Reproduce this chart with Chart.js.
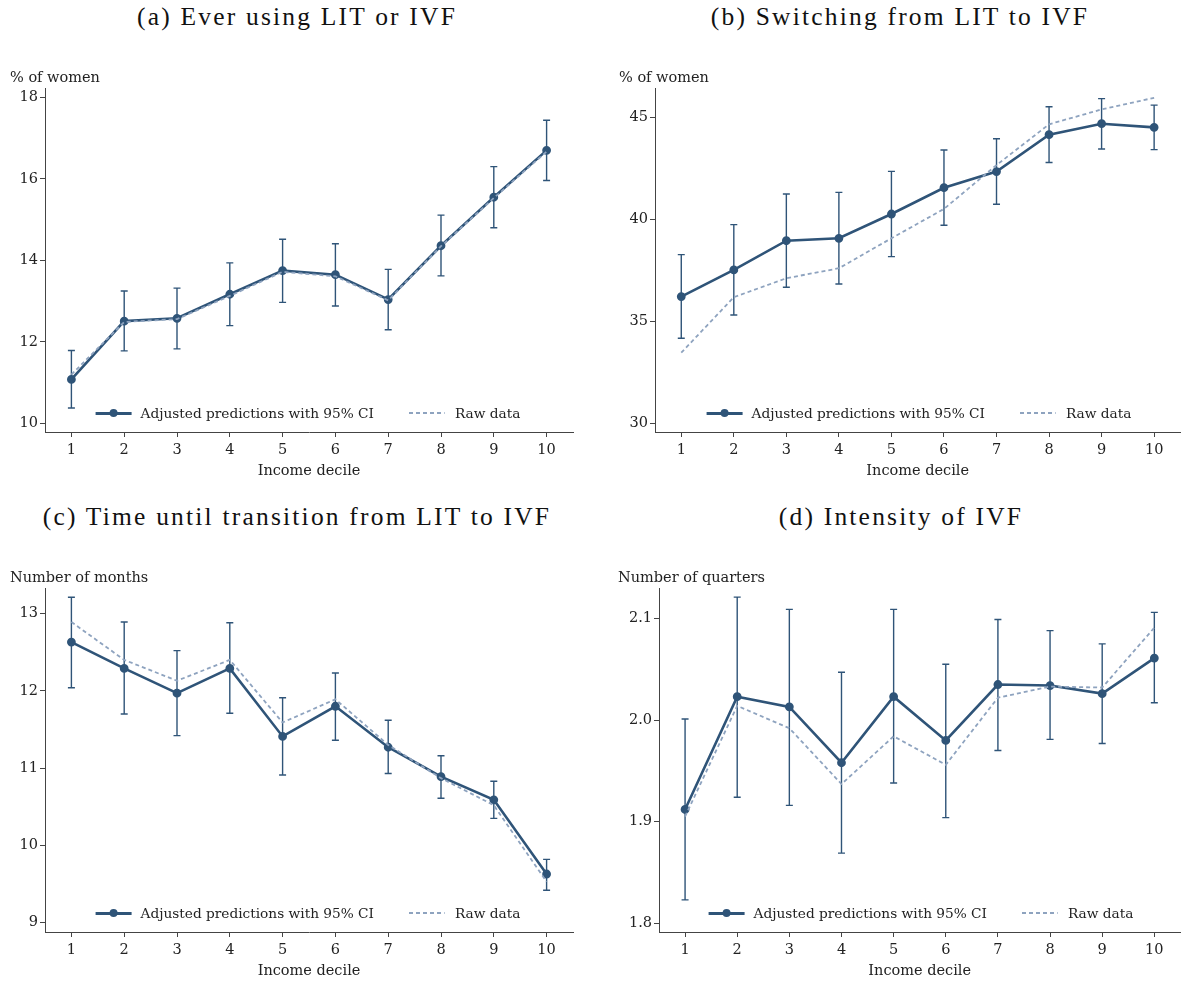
<!DOCTYPE html>
<html>
<head>
<meta charset="utf-8">
<title>Income decile panels</title>
<script src="https://cdn.jsdelivr.net/npm/chart.js@4.4.1/dist/chart.umd.min.js"></script>
<style>
html, body { margin: 0; padding: 0; background: #fff; overflow: hidden; width: 1182px; height: 983px; }
.panel-title { position: absolute; transform: translateX(-50%); font-family: 'Liberation Serif', serif; font-size: 25.5px; letter-spacing: 2.2px; color: #111; white-space: nowrap; }
.box { position: absolute; }
.legend { position: absolute; transform: translate(-50%, -50%); display: flex; align-items: center; font-family: 'DejaVu Serif', serif; font-size: 13.7px; color: #222; white-space: nowrap; }
.swatch { position: relative; width: 36px; height: 10px; margin-right: 9px; }
.swatch.solid::before { content: ''; position: absolute; left: 0; right: 0; top: 3.5px; height: 3px; background: #2f5478; }
.swatch.solid::after { content: ''; position: absolute; left: 14px; top: 1px; width: 8px; height: 8px; border-radius: 50%; background: #2f5478; }
.swatch.dash { margin-left: 35px; margin-right: 10px; }
.swatch.dash::before { content: ''; position: absolute; left: 0; right: 0; top: 4px; height: 2px; background: repeating-linear-gradient(90deg, #8ea3bf 0 4px, transparent 4px 7px); }
</style>
</head>
<body>

<script>
// Colours
const NAVY = '#2f5478';
const RAW = '#8ea3bf';
const AXIS = '#444';
const FONT = "'DejaVu Serif', serif";

// Shared x values
const deciles = [1, 2, 3, 4, 5, 6, 7, 8, 9, 10];

// (a) Ever using LIT or IVF
const everAdj = [11.08, 12.51, 12.58, 13.17, 13.75, 13.65, 13.04, 14.36, 15.55, 16.70];
const everLo  = [10.38, 11.78, 11.83, 12.40, 12.97, 12.88, 12.30, 13.62, 14.80, 15.96];
const everHi  = [11.79, 13.25, 13.32, 13.94, 14.52, 14.41, 13.78, 15.11, 16.30, 17.44];
const everRaw = [11.20, 12.49, 12.56, 13.13, 13.72, 13.61, 13.02, 14.35, 15.53, 16.67];
const everTicks = [10, 12, 14, 16, 18];

// (b) Switching from LIT to IVF
const switchAdj = [36.21, 37.52, 38.95, 39.07, 40.26, 41.55, 42.34, 44.15, 44.69, 44.51];
const switchLo  = [34.17, 35.31, 36.67, 36.83, 38.17, 39.71, 40.74, 42.79, 43.45, 43.42];
const switchHi  = [38.27, 39.74, 41.24, 41.32, 42.35, 43.40, 43.95, 45.52, 45.92, 45.60];
const switchRaw = [33.46, 36.18, 37.11, 37.60, 39.07, 40.51, 42.66, 44.66, 45.39, 45.96];
const switchTicks = [30, 35, 40, 45];

// (c) Time until transition from LIT to IVF
const monthsAdj = [12.63, 12.29, 11.97, 12.29, 11.41, 11.80, 11.27, 10.89, 10.59, 9.63];
const monthsLo  = [12.04, 11.70, 11.42, 11.71, 10.91, 11.36, 10.93, 10.61, 10.35, 9.42];
const monthsHi  = [13.21, 12.89, 12.52, 12.88, 11.91, 12.23, 11.62, 11.16, 10.83, 9.82];
const monthsRaw = [12.89, 12.40, 12.13, 12.40, 11.59, 11.89, 11.30, 10.87, 10.52, 9.53];
const monthsTicks = [9, 10, 11, 12, 13];

// (d) Intensity of IVF
const quartersAdj = [1.912, 2.023, 2.013, 1.958, 2.023, 1.980, 2.035, 2.034, 2.026, 2.061];
const quartersLo  = [1.823, 1.924, 1.916, 1.869, 1.938, 1.904, 1.970, 1.981, 1.977, 2.017];
const quartersHi  = [2.001, 2.121, 2.109, 2.047, 2.109, 2.055, 2.099, 2.088, 2.075, 2.106];
const quartersRaw = [1.905, 2.014, 1.992, 1.937, 1.984, 1.956, 2.022, 2.033, 2.032, 2.091];
const quartersTicks = [1.8, 1.9, 2, 2.1];

// Panel layout (page pixels)
const panels = [
    { title: '(a) Ever using LIT or IVF', titleX: 297, titleY: 2, left: 0, top: 60, width: 590,
      yLabel: '% of women', padLeft: 10, axisW: 35, padRight: 17, yMin: 9.79, yMax: 18.23,
      adj: everAdj, lo: everLo, hi: everHi, raw: everRaw, ticks: everTicks, legendX: 308, legendY: 413 },
    { title: '(b) Switching from LIT to IVF', titleX: 900, titleY: 2, left: 595, top: 60, width: 592,
      yLabel: '% of women', padLeft: 24, axisW: 36, padRight: 1.5, yMin: 29.57, yMax: 46.44,
      adj: switchAdj, lo: switchLo, hi: switchHi, raw: switchRaw, ticks: switchTicks, legendX: 919, legendY: 413 },
    { title: '(c) Time until transition from LIT to IVF', titleX: 297, titleY: 502, left: 0, top: 560, width: 590,
      yLabel: 'Number of months', padLeft: 10, axisW: 35, padRight: 17, yMin: 8.88, yMax: 13.33,
      adj: monthsAdj, lo: monthsLo, hi: monthsHi, raw: monthsRaw, ticks: monthsTicks, legendX: 308, legendY: 913 },
    { title: '(d) Intensity of IVF', titleX: 901, titleY: 502, left: 595, top: 560, width: 592,
      yLabel: 'Number of quarters', padLeft: 23, axisW: 41, padRight: 1.3, yMin: 1.7914, yMax: 2.130,
      adj: quartersAdj, lo: quartersLo, hi: quartersHi, raw: quartersRaw, ticks: quartersTicks, legendX: 921, legendY: 913 }
];

// Draws the 95% CI whiskers from the dataset's lo/hi arrays
const errorBars = {
    id: 'errorBars',
    beforeDatasetsDraw(chart) {
        const { ctx, scales: { x, y } } = chart;
        const ds = chart.data.datasets.find(d => d.errLo);
        if (!ds) return;
        const cap = 3.5;
        ctx.save();
        ctx.strokeStyle = NAVY;
        ctx.lineWidth = 1.4;
        ds.errLo.forEach((lo, i) => {
            const px = x.getPixelForValue(deciles[i]);
            const yl = y.getPixelForValue(lo);
            const yh = y.getPixelForValue(ds.errHi[i]);
            ctx.beginPath();
            ctx.moveTo(px, yl); ctx.lineTo(px, yh);
            ctx.moveTo(px - cap, yl); ctx.lineTo(px + cap, yl);
            ctx.moveTo(px - cap, yh); ctx.lineTo(px + cap, yh);
            ctx.stroke();
        });
        ctx.restore();
    }
};

function addLegend(p) {
    const el = document.createElement('div');
    el.className = 'legend';
    el.style.left = p.legendX + 'px';
    el.style.top = p.legendY + 'px';
    el.innerHTML = '<span class="swatch solid"></span><span>Adjusted predictions with 95% CI</span>' +
                   '<span class="swatch dash"></span><span>Raw data</span>';
    document.body.appendChild(el);
}

function makePanel(p) {
    const t = document.createElement('div');
    t.className = 'panel-title';
    t.style.left = p.titleX + 'px';
    t.style.top = p.titleY + 'px';
    t.textContent = p.title;
    document.body.appendChild(t);

    const box = document.createElement('div');
    box.className = 'box';
    box.style.left = p.left + 'px';
    box.style.top = p.top + 'px';
    box.style.width = p.width + 'px';
    box.style.height = '425px';
    const canvas = document.createElement('canvas');
    box.appendChild(canvas);
    document.body.appendChild(box);

    new Chart(canvas, {
        type: 'line',
        data: {
            datasets: [
                {
                    label: 'Raw data',
                    data: deciles.map((d, i) => ({ x: d, y: p.raw[i] })),
                    borderColor: RAW,
                    borderWidth: 1.8,
                    borderDash: [4, 3],
                    pointRadius: 0,
                    tension: 0
                },
                {
                    label: 'Adjusted predictions with 95% CI',
                    data: deciles.map((d, i) => ({ x: d, y: p.adj[i] })),
                    errLo: p.lo,
                    errHi: p.hi,
                    borderColor: NAVY,
                    backgroundColor: NAVY,
                    borderWidth: 2.6,
                    pointRadius: 3.1,
                    pointBackgroundColor: NAVY,
                    pointBorderColor: NAVY,
                    tension: 0
                }
            ]
        },
        options: {
            responsive: true,
            maintainAspectRatio: false,
            animation: false,
            layout: { padding: { left: p.padLeft, right: p.padRight, top: 0, bottom: 0 } },
            plugins: {
                legend: { display: false },
                tooltip: { enabled: false },
                title: {
                    display: true,
                    text: p.yLabel,
                    align: 'start',
                    color: '#222',
                    font: { family: FONT, size: 14.5, weight: 'normal' },
                    padding: { top: 10, bottom: 0.6 }
                }
            },
            scales: {
                x: {
                    type: 'linear',
                    min: 0.5,
                    max: 10.5,
                    afterBuildTicks: s => { s.ticks = deciles.map(v => ({ value: v })); },
                    afterFit: s => { s.height = 53; },
                    grid: { drawOnChartArea: false, drawTicks: true, tickLength: 5, color: AXIS },
                    border: { display: true, color: AXIS, width: 1 },
                    ticks: { color: '#222', padding: 5, font: { family: FONT, size: 14.5 } },
                    title: {
                        display: true,
                        text: 'Income decile',
                        color: '#222',
                        font: { family: FONT, size: 14.5 },
                        padding: { top: 0, bottom: 5 }
                    }
                },
                y: {
                    min: p.yMin,
                    max: p.yMax,
                    afterBuildTicks: s => { s.ticks = p.ticks.map(v => ({ value: v })); },
                    afterFit: s => { s.width = p.axisW; },
                    grid: { drawOnChartArea: false, drawTicks: true, tickLength: 5, color: AXIS },
                    border: { display: true, color: AXIS, width: 1 },
                    ticks: { color: '#222', padding: 2, font: { family: FONT, size: 14.5 } }
                }
            }
        },
        plugins: [errorBars]
    });

    addLegend(p);
}

panels.forEach(makePanel);
</script>
</body>
</html>
